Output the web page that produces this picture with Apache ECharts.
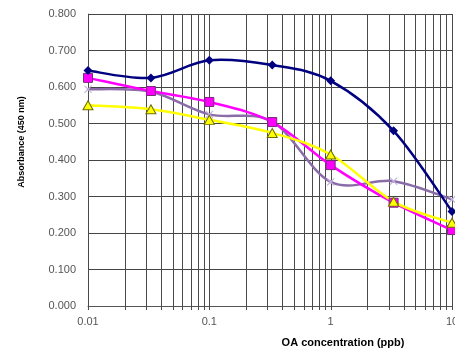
<!DOCTYPE html>
<html>
<head>
<meta charset="utf-8">
<script src="https://cdn.jsdelivr.net/npm/echarts@6/dist/echarts.min.js"></script>
<style>
  html, body { margin: 0; padding: 0; background: #fff; }
  #chart { width: 455px; height: 351px; }
</style>
</head>
<body>
<div id="chart"></div>
<script>
// OA concentrations (ppb) of the standard series
const concentrations = [0.01, 0.033, 0.1, 0.33, 1, 3.3, 10];

// Absorbance at 450 nm for each curve
const seriesNavy    = [0.645, 0.625, 0.673, 0.660, 0.617, 0.480, 0.259];
const seriesMagenta = [0.625, 0.589, 0.559, 0.504, 0.386, 0.283, 0.208];
const seriesYellow  = [0.550, 0.539, 0.510, 0.474, 0.415, 0.286, 0.228];
const seriesPurple  = [0.594, 0.587, 0.525, 0.505, 0.340, 0.342, 0.292];

// Log grid lines: 1..9 times each decade, plus the last decade line
const gridDecades = [0.01, 0.1, 1];
const gridMultipliers = [1, 2, 3, 4, 5, 6, 7, 8, 9];

const gridLines = [];
gridDecades.forEach(d => gridMultipliers.forEach(m => gridLines.push([+(d * m).toPrecision(3), 0])));
gridLines.push([10, 0]);

const pairs = vals => vals.map((v, i) => [concentrations[i], v]);

const FONT = '"Liberation Sans", Arial, sans-serif';
const crossPath = 'path://M0,1L1,0L5,4L9,0L10,1L6,5L10,9L9,10L5,6L1,10L0,9L4,5Z';

// Smoothed curve (Catmull-Rom style bezier segments in screen space),
// one segment per data item, positioned through the axis scales.
function curveSeries(values, color, z) {
  return {
    type: 'custom',
    silent: true,
    z: z,
    data: pairs(values),
    encode: { x: 0, y: 1 },
    renderItem: (params, api) => {
      const i = params.dataIndex;
      const n = values.length;
      if (i >= n - 1) return { type: 'group', children: [] };
      const p = values.map((v, k) => api.coord([concentrations[k], v]));
      const P0 = p[Math.max(i - 1, 0)], P1 = p[i], P2 = p[i + 1], P3 = p[Math.min(i + 2, n - 1)];
      const t = 1 / 6;
      return {
        type: 'bezierCurve',
        shape: {
          x1: P1[0], y1: P1[1],
          cpx1: P1[0] + (P2[0] - P0[0]) * t, cpy1: P1[1] + (P2[1] - P0[1]) * t,
          cpx2: P2[0] - (P3[0] - P1[0]) * t, cpy2: P2[1] - (P3[1] - P1[1]) * t,
          x2: P2[0], y2: P2[1]
        },
        style: { stroke: color, lineWidth: 2.5, fill: null, lineCap: 'round' }
      };
    }
  };
}

function markerSeries(values, z, opts) {
  return Object.assign({
    type: 'line',
    z: z,
    data: pairs(values),
    showAllSymbol: true,
    lineStyle: { width: 0, opacity: 0 }
  }, opts);
}

const chart = echarts.init(document.getElementById('chart'), null, { renderer: 'canvas' });

chart.setOption({
  animation: false,
  backgroundColor: '#ffffff',
  grid: { left: 88, top: 14, width: 364, height: 292, containLabel: false, outerBoundsMode: 'none' },
  xAxis: {
    type: 'log',
    logBase: 10,
    min: 0.01,
    max: 10,
    axisLine: { show: true, lineStyle: { color: '#555', width: 1 } },
    axisTick: { show: false },
    splitLine: { show: false },
    axisLabel: {
      color: '#555',
      fontFamily: FONT,
      fontSize: 11,
      margin: 10,
      hideOverlap: false,
      formatter: v => String(+v.toPrecision(3))
    }
  },
  yAxis: {
    type: 'value',
    min: 0,
    max: 0.8,
    interval: 0.1,
    axisLine: { show: true, lineStyle: { color: '#888', width: 1 } },
    axisTick: { show: false },
    splitLine: { show: true, lineStyle: { color: '#444', width: 1 } },
    axisLabel: {
      color: '#555',
      fontFamily: FONT,
      fontSize: 11,
      margin: 12,
      formatter: v => v.toFixed(3)
    }
  },
  graphic: [
    {
      type: 'text',
      x: 22,
      y: 142,
      rotation: Math.PI / 2,
      style: {
        text: 'Absorbance (450 nm)',
        font: 'bold 9px ' + FONT,
        fill: '#000',
        align: 'center',
        verticalAlign: 'middle'
      }
    },
    {
      type: 'text',
      x: 343,
      y: 343,
      style: {
        text: 'OA concentration (ppb)',
        font: 'bold 11px ' + FONT,
        fill: '#000',
        align: 'center',
        verticalAlign: 'middle'
      }
    }
  ],
  series: [
    {
      // vertical log grid lines with small ticks under the axis
      type: 'custom',
      silent: true,
      z: 1,
      clip: false,
      data: gridLines,
      encode: { x: 0, y: 1 },
      renderItem: (params, api) => {
        const x = api.value(0);
        const p0 = api.coord([x, 0]);
        const p1 = api.coord([x, 0.8]);
        const px = Math.round(p0[0]) + 0.5;
        return {
          type: 'line',
          shape: { x1: px, y1: p0[1] + 4, x2: px, y2: p1[1] },
          style: { stroke: '#4a4a4a', lineWidth: 1 }
        };
      }
    },
    curveSeries(seriesPurple, '#8a6ca8', 3),
    markerSeries(seriesPurple, 3, {
      symbol: crossPath, symbolSize: 8,
      itemStyle: { color: '#c4b4dc' }
    }),
    curveSeries(seriesMagenta, '#ff00ff', 3),
    markerSeries(seriesMagenta, 3, {
      symbol: 'rect', symbolSize: 9,
      itemStyle: { color: '#ff00ff', borderColor: '#7a2a7a', borderWidth: 1 }
    }),
    curveSeries(seriesYellow, '#ffff00', 3),
    markerSeries(seriesYellow, 3, {
      symbol: 'triangle', symbolSize: [10, 9],
      itemStyle: { color: '#ffff00', borderColor: '#6b6b00', borderWidth: 1 }
    }),
    curveSeries(seriesNavy, '#000080', 3),
    markerSeries(seriesNavy, 3, {
      symbol: 'diamond', symbolSize: 9,
      itemStyle: { color: '#000080' }
    })
  ]
});
</script>
</body>
</html>
